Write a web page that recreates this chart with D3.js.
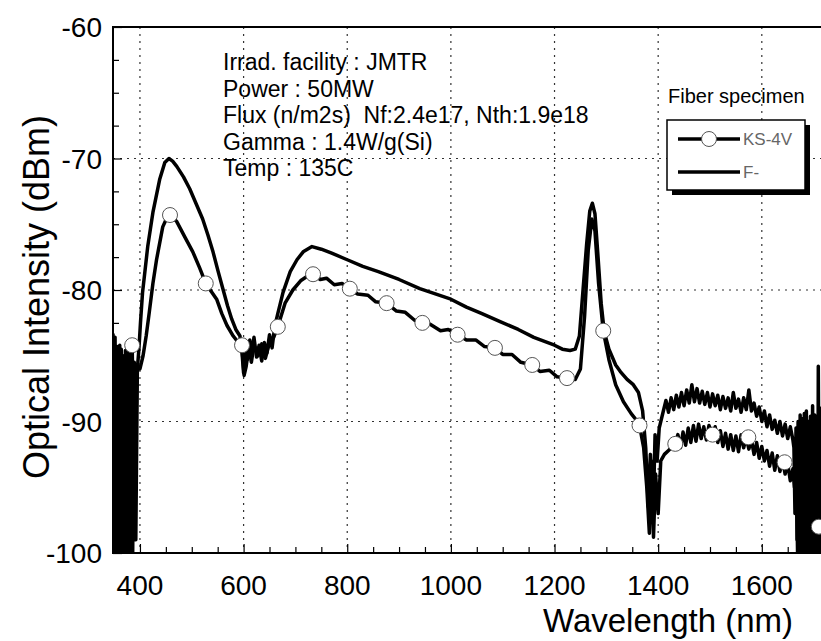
<!DOCTYPE html>
<html lang="en">
  <head>
    <meta charset="utf-8">
    <title>Optical Intensity</title>
    <script src="https://d3js.org/d3.v7.min.js"></script>
    <style>
      body {
        margin: 0;
        background: #fff;
        font-family: "Liberation Sans", Arial, sans-serif;
      }
      .grid line {
        stroke: #333;
        stroke-width: 1.2;
        stroke-dasharray: 2,5;
      }
      .series {
        fill: none;
        stroke: #000;
        stroke-width: 3.5;
        stroke-linejoin: round;
      }
      .marker {
        fill: #fff;
        stroke: #555;
        stroke-width: 1;
      }
    </style>
  </head>
  <body>
    <div id="chart"></div>
    <script>

    // data ******************************************

    // F- fiber (upper curve), [wavelength nm, dBm]
    let fData = [
      [348,-83.3],[350,-100],[352,-83.6],[354,-100],[356,-84.3],[358,-100],[360,-84.8],[362,-100],
      [364,-84.5],[366,-100],[368,-85.2],[370,-100],[372,-84.6],[374,-100],[377,-85],[380,-100],
      [383,-84.5],[386,-100],[389,-85.5],[392,-99],[395,-86],[398,-84.5],[401,-82.5],[405,-80.2],
      [415,-76.7],[425,-74.1],[438,-71.6],[448,-70.3],[456,-70],[463,-70.2],[471,-70.6],[484,-71.4],
      [496,-72.3],[508,-73.4],[521,-74.6],[531,-75.8],[541,-77.1],[551,-78.6],[560,-79.9],[569,-81.2],
      [577,-82.2],[585,-83],[593,-83.5],[597,-84.8],[600,-86.3],[603,-84.1],[607,-85.3],[612,-83.8],
      [616,-84.9],[620,-83.6],[625,-85.1],[630,-84.2],[635,-85.4],[640,-84],[645,-84.8],[650,-83.4],
      [655,-84.4],[660,-82.8],[666,-81.8],[676,-80.2],[690,-78.6],[703,-77.7],[715,-77.1],[732,-76.7],
      [750,-76.9],[770,-77.2],[800,-77.7],[830,-78.2],[860,-78.6],[900,-79.2],[940,-79.9],[970,-80.3],
      [1000,-80.7],[1030,-81.3],[1060,-81.8],[1095,-82.4],[1130,-83],[1160,-83.6],[1200,-84.2],[1215,-84.5],
      [1230,-84.6],[1240,-84.5],[1248,-83.5],[1255,-80],[1262,-76.5],[1268,-74],[1273,-73.4],[1278,-74.2],
      [1284,-77.5],[1290,-81],[1296,-83.2],[1305,-84.5],[1318,-85.7],[1327,-86.2],[1340,-86.8],[1352,-87.2],
      [1362,-87.8],[1370,-89.2],[1376,-92],[1381,-96.5],[1385,-92.5],[1390,-97.5],[1394,-91],[1398,-93],
      [1402,-90.5],[1410,-89.2],[1415,-88.4],[1420,-89.3],[1425,-88.2],[1430,-89.1],[1435,-88],[1440,-88.9],
      [1445,-87.8],[1450,-88.8],[1455,-87.6],[1460,-88.6],[1465,-87.2],[1470,-88.5],[1475,-87.5],[1480,-88.6],
      [1485,-87.7],[1490,-88.7],[1495,-87.8],[1500,-88.9],[1505,-87.9],[1510,-88.8],[1515,-88],[1520,-89.1],
      [1525,-88.1],[1530,-89],[1535,-88.2],[1540,-89.2],[1545,-87.8],[1550,-89],[1555,-88.3],[1560,-89.3],
      [1565,-88.2],[1570,-89.1],[1575,-87.6],[1580,-89.2],[1585,-88.6],[1590,-89.6],[1595,-88.9],[1600,-90],
      [1605,-89.2],[1610,-90.4],[1615,-89.5],[1620,-90.6],[1625,-89.9],[1630,-90.9],[1635,-90],[1640,-91.1],
      [1645,-90.2],[1650,-91.3],[1655,-90.4],[1660,-91.4],[1662,-92],[1664,-97],[1666,-90.5],[1668,-99],
      [1670,-90],[1672,-100],[1674,-89.5],[1676,-100],[1678,-89.8],[1680,-100],[1682,-89.4],[1684,-100],
      [1686,-89.2],[1688,-100],[1690,-90],[1692,-100],[1694,-89.6],[1696,-100],[1698,-88.8],[1700,-100],
      [1702,-89.5],[1704,-100],[1706,-89.9],[1708,-100],[1709,-85.8],[1711,-100],[1713,-89],[1715,-100],
      [1717,-89.6],[1719,-100],[1720,-90]
    ]

    // KS-4V fiber (lower curve), [wavelength nm, dBm]
    let ksData = [
      [348,-84],[351,-100],[354,-84.6],[357,-100],[361,-84.2],[365,-100],[369,-85],[373,-100],
      [378,-84.4],[382,-99],[385,-84.2],[390,-97],[394,-86],[400,-86],[406,-85],[412,-83.5],
      [418,-81.7],[425,-79.5],[432,-77.7],[444,-75.2],[452,-74.5],[458,-74.3],[471,-74.8],[487,-76],
      [502,-77.1],[515,-78.3],[527,-79.5],[548,-80.7],[558,-81.8],[568,-82.7],[580,-83.5],[590,-84],
      [597,-84.4],[601,-86.5],[605,-85.8],[610,-84.3],[615,-85.5],[620,-84.2],[628,-85],[635,-84.1],
      [642,-85.2],[650,-84],[658,-83.6],[666,-82.8],[680,-81],[695,-80],[710,-79.3],[725,-78.9],
      [734,-78.8],[748,-79.2],[760,-79.1],[775,-79.6],[790,-79.5],[805,-79.9],[820,-80.3],[840,-80.4],
      [855,-80.9],[876,-81],[895,-81.6],[912,-81.7],[930,-82.3],[945,-82.5],[960,-82.6],[980,-83.1],
      [995,-83],[1013,-83.4],[1030,-83.8],[1048,-83.8],[1065,-84.3],[1085,-84.4],[1100,-84.9],[1118,-84.9],
      [1135,-85.5],[1157,-85.7],[1172,-86.2],[1190,-86.1],[1205,-86.6],[1224,-86.7],[1240,-86.8],[1250,-86],
      [1258,-82],[1265,-77],[1272,-74.6],[1278,-75.5],[1285,-79.5],[1294,-83.1],[1305,-85.3],[1318,-87.2],
      [1333,-88.5],[1348,-89.4],[1360,-90],[1364,-90.3],[1372,-92],[1378,-95],[1383,-98.5],[1387,-93],
      [1391,-98.8],[1395,-94],[1400,-97],[1405,-93],[1412,-92.5],[1420,-92.2],[1433,-91.7],[1438,-91],
      [1443,-92],[1448,-90.8],[1453,-91.8],[1458,-90.5],[1463,-91.6],[1468,-90.3],[1473,-91.5],[1478,-90.2],
      [1483,-91.3],[1488,-90.4],[1493,-91.4],[1498,-90.3],[1505,-91],[1510,-90.4],[1515,-91.6],[1520,-90.7],
      [1525,-91.9],[1530,-90.9],[1535,-92.1],[1540,-91],[1545,-92.2],[1550,-91.1],[1555,-92.3],[1560,-91],
      [1565,-92],[1570,-91.2],[1575,-92.1],[1580,-91.4],[1585,-92.5],[1590,-91.6],[1595,-92.8],[1600,-91.9],
      [1605,-93],[1610,-92.2],[1615,-93.4],[1620,-92.4],[1625,-93.7],[1630,-92.6],[1635,-93.8],[1640,-92.9],
      [1645,-94],[1650,-93.2],[1655,-94.5],[1660,-93.6],[1663,-95],[1666,-92],[1669,-100],[1672,-91],
      [1675,-100],[1679,-90.5],[1682,-100],[1685,-91.2],[1688,-100],[1691,-90.2],[1694,-100],[1697,-89.6],
      [1700,-100],[1703,-90.4],[1706,-100],[1710,-98]
    ]

    // open circle markers on KS-4V
    let ksMarkers = [
      [385,-84.2],[458,-74.3],[527,-79.5],[597,-84.2],[666,-82.8],[734,-78.8],[805,-79.9],
      [876,-81.0],[945,-82.5],[1013,-83.4],[1085,-84.4],[1157,-85.7],[1224,-86.7],[1294,-83.1],
      [1364,-90.3],[1433,-91.7],[1505,-91.0],[1574,-91.2],[1644,-93.1],[1710,-98.0]
    ]

    let xTickLabels = [400, 600, 800, 1000, 1200, 1400, 1600]
    let yTickLabels = [-100, -90, -80, -70, -60]

    let notes = [
      "Irrad. facility : JMTR",
      "Power : 50MW",
      "Flux (n/m2s)  Nf:2.4e17, Nth:1.9e18",
      "Gamma : 1.4W/g(Si)",
      "Temp : 135C"
    ]

    let legendTitle = "Fiber specimen"
    let legendNames = ["KS-4V", "F-"]

    // setup ******************************************

    const W = 821, H = 641
    const mLeft = 113, mTop = 27, mBottom = 553, mRight = 821

    let x = d3.scaleLinear().domain([348, 1720]).range([mLeft, 824])
    let y = d3.scaleLinear().domain([-100, -60]).range([mBottom, mTop])

    let svg = d3.select("#chart")
      .append("svg")
        .attr("width", W)
        .attr("height", H)

    svg.append("clipPath").attr("id", "clip")
      .append("rect")
        .attr("x", mLeft).attr("y", mTop)
        .attr("width", mRight - mLeft).attr("height", mBottom - mTop)

    // grid lines
    let grid = svg.append("g").attr("class", "grid")
    grid.selectAll("line.v")
      .data(xTickLabels)
      .join("line")
        .attr("class", "v")
        .attr("x1", d => x(d)).attr("x2", d => x(d))
        .attr("y1", mTop).attr("y2", mBottom)
    grid.selectAll("line.h")
      .data([-90, -80, -70])
      .join("line")
        .attr("class", "h")
        .attr("x1", mLeft).attr("x2", mRight)
        .attr("y1", d => y(d)).attr("y2", d => y(d))

    // curves
    let line = d3.line()
      .x(d => x(d[0]))
      .y(d => y(d[1]))

    let plot = svg.append("g").attr("clip-path", "url(#clip)")

    plot.append("path")
      .datum(ksData)
      .attr("class", "series")
      .attr("d", line)

    plot.append("path")
      .datum(fData)
      .attr("class", "series")
      .attr("d", line)

    plot.selectAll("circle.marker")
      .data(ksMarkers)
      .join("circle")
        .attr("class", "marker")
        .attr("cx", d => x(d[0]))
        .attr("cy", d => y(d[1]))
        .attr("r", 7.5)

    // axes (ticks point inward)
    let xAxis = d3.axisTop(x)
      .tickValues(d3.range(350, 1701, 50))
      .tickSize(6)
      .tickFormat("")
    svg.append("g")
      .attr("transform", `translate(0,${mBottom})`)
      .call(xAxis)
      .call(g => g.select(".domain").remove())
      .selectAll(".tick line")
        .attr("y2", d => d % 200 == 0 ? -9 : -6)
        .attr("stroke-width", 1.2)

    let yAxis = d3.axisRight(y)
      .tickValues(d3.range(-100, -59, 2.5))
      .tickSize(6)
      .tickFormat("")
    svg.append("g")
      .attr("transform", `translate(${mLeft},0)`)
      .call(yAxis)
      .call(g => g.select(".domain").remove())
      .selectAll(".tick line")
        .attr("x2", d => d % 10 == 0 ? 9 : 6)
        .attr("stroke-width", 1.2)

    // frame
    svg.append("path")
      .attr("d", `M${mRight},${mTop}H${mLeft}V${mBottom}H${mRight}`)
      .attr("fill", "none")
      .attr("stroke", "#000")
      .attr("stroke-width", 2)

    // tick labels
    svg.selectAll("text.xl")
      .data(xTickLabels)
      .join("text")
        .attr("class", "xl")
        .attr("x", d => x(d))
        .attr("y", 595)
        .attr("text-anchor", "middle")
        .attr("font-size", 28)
        .text(d => d)

    svg.selectAll("text.yl")
      .data(yTickLabels)
      .join("text")
        .attr("class", "yl")
        .attr("x", 102)
        .attr("y", d => y(d) + 10)
        .attr("text-anchor", "end")
        .attr("font-size", 28)
        .text(d => d)

    // axis titles
    svg.append("text")
      .attr("x", 668)
      .attr("y", 632)
      .attr("text-anchor", "middle")
      .attr("font-size", 33)
      .text("Wavelength (nm)")

    svg.append("text")
      .attr("transform", "translate(49,297) rotate(-90)")
      .attr("text-anchor", "middle")
      .attr("font-size", 36)
      .text("Optical Intensity (dBm)")

    // irradiation notes
    svg.selectAll("text.note")
      .data(notes)
      .join("text")
        .attr("class", "note")
        .attr("x", 223)
        .attr("y", (d, i) => 70 + i * 26.6)
        .attr("font-size", 23)
        .style("white-space", "pre")
        .text(d => d)

    // legend
    let lg = svg.append("g")
    lg.append("text")
      .attr("x", 668).attr("y", 103)
      .attr("font-size", 20)
      .text(legendTitle)
    lg.append("rect")
      .attr("x", 672).attr("y", 125).attr("width", 138).attr("height", 70)
      .attr("fill", "#000")
    lg.append("rect")
      .attr("x", 667).attr("y", 120).attr("width", 138).attr("height", 70)
      .attr("fill", "#fff").attr("stroke", "#000").attr("stroke-width", 1.5)

    let rowY = [139, 172]
    lg.selectAll("line.lg")
      .data(legendNames)
      .join("line")
        .attr("x1", 678).attr("x2", 740)
        .attr("y1", (d, i) => rowY[i]).attr("y2", (d, i) => rowY[i])
        .attr("stroke", "#000").attr("stroke-width", 3.5)
    lg.append("circle")
      .attr("class", "marker")
      .attr("cx", 709).attr("cy", rowY[0]).attr("r", 7.5)
    lg.selectAll("text.lgname")
      .data(legendNames)
      .join("text")
        .attr("class", "lgname")
        .attr("x", 743)
        .attr("y", (d, i) => rowY[i] + 6)
        .attr("font-size", 17)
        .attr("fill", "#666")
        .text(d => d)

    </script>
  </body>
</html>
